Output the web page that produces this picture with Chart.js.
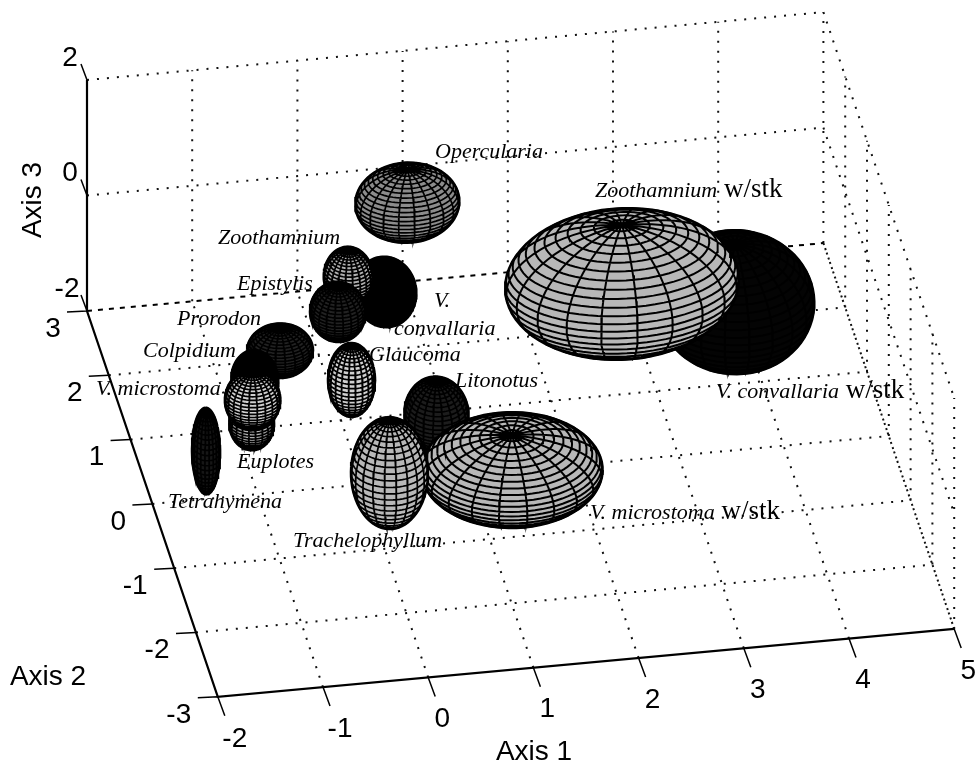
<!DOCTYPE html>
<html>
<head>
<meta charset="utf-8">
<title>Ellipsoids</title>
<script src="https://cdn.jsdelivr.net/npm/chart.js@4"></script>
<style>
  html, body { margin: 0; padding: 0; background: #fff; }
  canvas { display: block; }
</style>
</head>
<body>
<canvas id="chart" width="975" height="769"></canvas>
<script>
// ================= DATA =================
const axis1Ticks = [-2, -1, 0, 1, 2, 3, 4, 5];
const axis2Ticks = [3, 2, 1, 0, -1, -2, -3];
const axis3Ticks = [-2, 0, 2];

// listed back to front
const species = ["V. convallaria w/stk", "Zoothamnium w/stk", "Opercularia", "V. convallaria", "Zoothamnium",
  "Epistylis", "Prorodon", "Colpidium", "Euplotes", "V. microstoma", "Glaucoma", "Tetrahymena",
  "Litonotus", "V. microstoma w/stk", "Trachelophyllum"];
const centreAxis1 = [3.85, 2.67, 0.63, 0.42, 0.07, -0.03, -0.58, -0.82, -0.85, -0.84, 0.10, -1.49, 0.70, 1.21, 0.15];
const centreAxis2 = [1.5, 1, 1, 1, 1, 1, 1, 1, 1, 1, 1, 0, 0, -1, -0.5];
const centreAxis3 = [-1.16, -0.09, 1.66, 0.15, 0.47, -0.12, -0.70, -1.17, -1.91, -1.51, -1.32, -1.17, -0.91, -0.84, -1.27];
const radiusAxis1 = [0.74, 1.10, 0.49, 0.29, 0.23, 0.26, 0.31, 0.22, 0.21, 0.26, 0.22, 0.13, 0.30, 0.85, 0.36];
const radiusAxis2 = [0.66, 0.725, 0.35, 0.30, 0.22, 0.25, 0.25, 0.22, 0.20, 0.22, 0.20, 0.15, 0.30, 0.71, 0.32];
const radiusAxis3 = [1.00, 1.02, 0.57, 0.51, 0.46, 0.44, 0.38, 0.46, 0.41, 0.46, 0.60, 0.73, 0.57, 0.60, 0.90];

// ================= STYLES =================
const surfaceFill = {
  "V. convallaria w/stk": "#040404", "V. convallaria": "#000000", "Colpidium": "#000000",
  "Epistylis": "#222222", "Prorodon": "#222222", "Litonotus": "#1c1c1c", "Tetrahymena": "#161616",
  "Opercularia": "#8c8c8c", "Zoothamnium": "#b0b0b0", "Euplotes": "#b0b0b0",
  "V. microstoma": "#d0d0d0", "Glaucoma": "#d0d0d0"
};
const defaultFill = "#b8b8b8";
const ink = "#000";

// plot position of the box corner and one axis unit, in canvas pixels
const origin = { x: 87, y: 311 };
const unit1 = { x: 105.2, y: -9.7 };
const unit2 = { x: -21.8, y: -64.3 };
const unit3 = { x: 0, y: -57.75 };

function project(a1, a2, a3) {
  return {
    x: origin.x + (a1 + 2) * unit1.x + (a2 - 3) * unit2.x + (a3 + 2) * unit3.x,
    y: origin.y + (a1 + 2) * unit1.y + (a2 - 3) * unit2.y + (a3 + 2) * unit3.y
  };
}

// ================= BOX =================
const GAP = { x: NaN, y: NaN };
const gridDots = [];
const backEdge = [project(-2, 3, -2), project(5, 3, -2)];

function gridLine(p, q) { gridDots.push(p, q, GAP); }

axis1Ticks.slice(1).forEach(a1 => gridLine(project(a1, -3, -2), project(a1, 3, -2)));
axis2Ticks.slice(0, -1).forEach(a2 => {
  if (a2 !== 3) gridLine(project(-2, a2, -2), project(5, a2, -2));
});
axis1Ticks.slice(1).forEach(a1 => gridLine(project(a1, 3, -2), project(a1, 3, 2)));
axis3Ticks.slice(1).forEach(a3 => gridLine(project(-2, 3, a3), project(5, 3, a3)));
axis2Ticks.forEach(a2 => gridLine(project(5, a2, -2), project(5, a2, 2)));
axis3Ticks.forEach(a3 => gridLine(project(5, 3, a3), project(5, -3, a3)));

const axisLines = [];
axisLines.push(project(-2, 3, 2), project(-2, 3, -2), project(-2, -3, -2), project(5, -3, -2), GAP);

function offset(p, dx, dy) { return { x: p.x + dx, y: p.y + dy }; }

const tickMarks = [];
axis1Ticks.forEach(a1 => {
  const p = project(a1, -3, -2);
  tickMarks.push(p, offset(p, 7, 19), GAP);
});
axis2Ticks.forEach(a2 => {
  const p = project(-2, a2, -2);
  tickMarks.push(p, offset(p, -20, 1), GAP);
});
axis3Ticks.forEach(a3 => {
  const p = project(-2, 3, a3);
  tickMarks.push(p, offset(p, -6, -16), GAP);
});

// ================= ELLIPSOIDS =================
const MERIDIANS = 20;
const PARALLELS = 26;
const STEPS = 36;

function cross(a, b) {
  return [a[1] * b[2] - a[2] * b[1], a[2] * b[0] - a[0] * b[2], a[0] * b[1] - a[1] * b[0]];
}
function norm(a) {
  const l = Math.hypot(a[0], a[1], a[2]);
  return [a[0] / l, a[1] / l, a[2] / l];
}

function buildEllipsoid(i) {
  const rx = radiusAxis1[i], ry = radiusAxis2[i], rz = radiusAxis3[i];
  const at = n => project(centreAxis1[i] + rx * n[0], centreAxis2[i] + ry * n[1], centreAxis3[i] + rz * n[2]);

  // side of the unit sphere that faces the viewer
  const rowX = [unit1.x * rx, unit2.x * ry, unit3.x * rz];
  const rowY = [unit1.y * rx, unit2.y * ry, unit3.y * rz];
  let view = norm(cross(rowX, rowY));
  if (view[2] < 0) view = view.map(v => -v);

  const e1 = norm(cross(view, [1, 0, 0]));
  const e2 = cross(view, e1);
  const outline = [];
  for (let s = 0; s <= 72; s++) {
    const t = s / 72 * 2 * Math.PI;
    outline.push(at([0, 1, 2].map(k => Math.cos(t) * e1[k] + Math.sin(t) * e2[k])));
  }

  const mesh = [];
  const addPoint = n => {
    const facing = n[0] * view[0] + n[1] * view[1] + n[2] * view[2];
    mesh.push(facing >= 0 ? at(n) : GAP);
  };
  // meridians
  for (let m = 0; m < MERIDIANS; m++) {
    const lon = m / MERIDIANS * 2 * Math.PI;
    for (let s = 0; s <= STEPS; s++) {
      const lat = s / STEPS * Math.PI;
      addPoint([Math.sin(lat) * Math.cos(lon), Math.sin(lat) * Math.sin(lon), Math.cos(lat)]);
    }
    mesh.push(GAP);
  }
  // parallels
  for (let p = 1; p < PARALLELS; p++) {
    const lat = p / PARALLELS * Math.PI;
    for (let s = 0; s <= STEPS * 2; s++) {
      const lon = s / (STEPS * 2) * 2 * Math.PI;
      addPoint([Math.sin(lat) * Math.cos(lon), Math.sin(lat) * Math.sin(lon), Math.cos(lat)]);
    }
    mesh.push(GAP);
  }
  return { outline, mesh };
}

// ================= DATASETS =================
const lineBase = { showLine: true, pointRadius: 0, pointHoverRadius: 0, tension: 0, fill: false, borderColor: ink };
const layers = [
  { ...lineBase, label: "grid", data: gridDots, borderWidth: 2, borderDash: [2, 8], borderColor: "#111" },
  { ...lineBase, label: "back edge", data: backEdge, borderWidth: 2, borderDash: [5, 6] },
  { ...lineBase, label: "axes", data: axisLines, borderWidth: 2.2 },
  { ...lineBase, label: "ticks", data: tickMarks, borderWidth: 1.5 }
];

species.forEach((name, i) => {
  const shape = buildEllipsoid(i);
  const fillColor = surfaceFill[name] || defaultFill;
  layers.push({
    ...lineBase, label: name, data: shape.outline, fill: "shape",
    backgroundColor: fillColor, borderWidth: 2.5
  });
  layers.push({
    ...lineBase, label: name + " mesh", data: shape.mesh,
    borderWidth: radiusAxis1[i] > 0.6 ? 2 : 1.7
  });
});

// ================= TEXT =================
const SANS = '"Liberation Sans", Arial, sans-serif';
const SERIF = '"Liberation Serif", serif';

const nameLabels = [
  { parts: [["Opercularia", true]], x: 435, y: 158 },
  { parts: [["Zoothamnium", true], [" w/stk", false]], x: 595, y: 197 },
  { parts: [["Zoothamnium", true]], x: 218, y: 244 },
  { parts: [["Epistylis", true]], x: 237, y: 290 },
  { parts: [["V.", true]], x: 434, y: 307 },
  { parts: [["Prorodon", true]], x: 177, y: 325 },
  { parts: [["convallaria", true]], x: 394, y: 335 },
  { parts: [["Colpidium", true]], x: 143, y: 357 },
  { parts: [["Glaucoma", true]], x: 369, y: 361 },
  { parts: [["Litonotus", true]], x: 455, y: 387 },
  { parts: [["V. microstoma", true]], x: 96, y: 395 },
  { parts: [["V. convallaria", true], [" w/stk", false]], x: 716, y: 398 },
  { parts: [["Euplotes", true]], x: 237, y: 468 },
  { parts: [["Tetrahymena", true]], x: 168, y: 508 },
  { parts: [["V. microstoma", true], [" w/stk", false]], x: 590, y: 519 },
  { parts: [["Trachelophyllum", true]], x: 293, y: 547 }
];

const labelPlugin = {
  id: "labels",
  afterDraw(chart) {
    const ctx = chart.ctx;
    const sx = chart.scales.x, sy = chart.scales.y;
    const px = (p, dx, dy) => [sx.getPixelForValue(p.x) + dx, sy.getPixelForValue(p.y) + dy];

    ctx.save();
    ctx.fillStyle = ink;

    // tick labels
    ctx.font = "28px " + SANS;
    ctx.textAlign = "center";
    ctx.textBaseline = "middle";
    axis1Ticks.forEach(v => ctx.fillText(String(v), ...px(project(v, -3, -2), v < 0 ? 17 : 14, 42)));
    axis2Ticks.forEach(v => ctx.fillText(String(v), ...px(project(-2, v, -2), v < 0 ? -39 : -34, 18)));
    axis3Ticks.forEach(v => ctx.fillText(String(v), ...px(project(-2, 3, v), v < 0 ? -20 : -17, -22)));

    // axis titles
    ctx.fillText("Axis 1", ...px({ x: 534, y: 752 }, 0, 0));
    ctx.fillText("Axis 2", ...px({ x: 48, y: 677 }, 0, 0));
    ctx.save();
    ctx.translate(...px({ x: 33, y: 200 }, 0, 0));
    ctx.rotate(-Math.PI / 2);
    ctx.fillText("Axis 3", 0, 0);
    ctx.restore();

    // species names
    ctx.textAlign = "left";
    ctx.textBaseline = "alphabetic";
    nameLabels.forEach(label => {
      let [x, y] = px(label, 0, 0);
      label.parts.forEach(([text, italic]) => {
        ctx.font = italic ? "italic 22px " + SERIF : "27px " + SERIF;
        ctx.fillText(text, x, y);
        x += ctx.measureText(text).width;
      });
    });
    ctx.restore();
  }
};

// ================= CHART =================
new Chart(document.getElementById("chart"), {
  type: "scatter",
  data: { datasets: layers.reverse() }, // first dataset is painted last
  options: {
    responsive: false,
    animation: false,
    events: [],
    layout: { padding: 0 },
    plugins: { legend: { display: false }, tooltip: { enabled: false } },
    scales: {
      x: { type: "linear", min: 0, max: 975, display: false },
      y: { type: "linear", min: 0, max: 769, reverse: true, display: false }
    }
  },
  plugins: [labelPlugin]
});
</script>
</body>
</html>
